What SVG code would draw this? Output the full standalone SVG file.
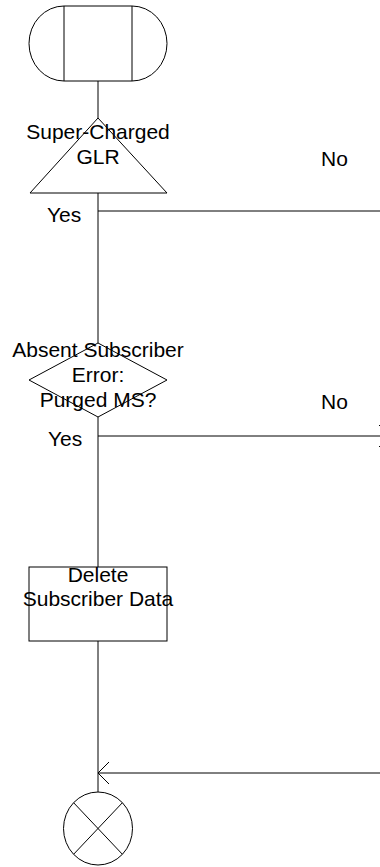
<svg xmlns="http://www.w3.org/2000/svg" width="380" height="867" viewBox="0 0 380 867">
<style>
.s{fill:none;stroke:#000;stroke-width:1}
.t{font-family:"Liberation Sans",Arial,sans-serif;font-size:21px;fill:#000}
.m{text-anchor:middle}
</style>
<defs>
<marker id="arr" markerWidth="14" markerHeight="26" refX="12" refY="12" orient="auto" markerUnits="userSpaceOnUse">
<path d="M1,1 L12,12 L1,23" fill="none" stroke="#000" stroke-width="1"/>
</marker>
</defs>
<rect width="380" height="867" fill="#fff"/>
<g id="connectors">
<line class="s" x1="98" y1="81" x2="98" y2="118"/>
<line class="s" x1="98" y1="193" x2="98" y2="343"/>
<line class="s" x1="98" y1="211" x2="381" y2="211"/>
<line class="s" x1="98" y1="417" x2="98" y2="567"/>
<line class="s" x1="98" y1="436" x2="390" y2="436" marker-end="url(#arr)"/>
<line class="s" x1="98" y1="641" x2="98" y2="792"/>
<line class="s" x1="381" y1="773" x2="98" y2="773" marker-end="url(#arr)"/>
</g>
<g id="start">
<path class="s" d="M64,6 H132 A35,37.5 0 0 1 132,81 H64 A35,37.5 0 0 1 64,6 Z"/>
<line class="s" x1="64" y1="6" x2="64" y2="81"/>
<line class="s" x1="132" y1="6" x2="132" y2="81"/>
</g>
<g id="supercharged">
<polygon class="s" points="98,118 167,193 30,193"/>
<text class="t m" x="98" y="139">Super-Charged</text>
<text class="t m" x="98" y="164">GLR</text>
</g>
<g id="labels1">
<text class="t" x="47" y="222">Yes</text>
<text class="t" x="321" y="166">No</text>
</g>
<g id="purged">
<polygon class="s" points="98,343 167,380 98,417 29,380"/>
<text class="t m" x="98" y="357">Absent Subscriber</text>
<text class="t m" x="98" y="382">Error:</text>
<text class="t m" x="98" y="407">Purged MS?</text>
</g>
<g id="labels2">
<text class="t" x="48" y="446">Yes</text>
<text class="t" x="321" y="409">No</text>
</g>
<g id="delete">
<rect class="s" x="29" y="567" width="138" height="74"/>
<text class="t m" x="98" y="582">Delete</text>
<text class="t m" x="98" y="606">Subscriber Data</text>
</g>
<g id="end">
<ellipse class="s" cx="98" cy="828.5" rx="34.5" ry="36.5"/>
<line class="s" x1="73.6" y1="802.7" x2="122.4" y2="854.3"/>
<line class="s" x1="122.4" y1="802.7" x2="73.6" y2="854.3"/>
</g>
</svg>
